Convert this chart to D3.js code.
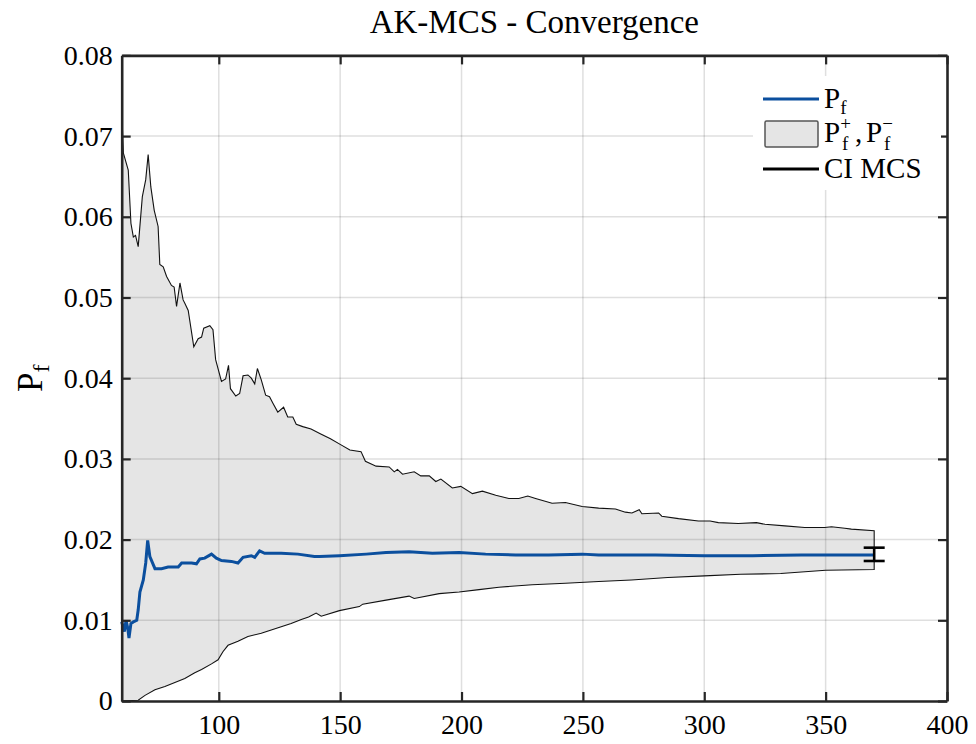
<!DOCTYPE html>
<html>
<head>
<meta charset="utf-8">
<script src="https://cdn.jsdelivr.net/npm/d3@7"></script>
<style>
  body { margin: 0; background: #fff; }
  svg text { font-family: "Liberation Serif", "Times New Roman", "DejaVu Serif", serif !important; fill: #000; }
</style>
</head>
<body>
<div id="chart"></div>
<script>
// upper bound Pf+
const upperX = [60, 60.7, 62.7, 63.8, 64.8, 65.7, 66.8, 68.5, 69.9, 70.9, 72, 73.4, 75, 75.7, 77.1, 78.5, 80.5, 81.6, 82.6, 84, 85.3, 86, 87.4, 89.7, 91.5, 92.9, 93.8, 96.3, 97.6, 98.7, 101.1, 102.8, 104, 104.8, 107, 108.6, 110, 112, 113.4, 114.8, 115.9, 117.5, 119.3, 120.9, 122.3, 124.3, 126.7, 128.4, 130.5, 131.9, 134.6, 138, 142, 146, 150, 154, 158.6, 160.4, 164.8, 170.2, 172.3, 173.6, 175.7, 180.5, 183.2, 186.7, 189.4, 191.5, 196.2, 199.7, 204.5, 208.6, 214.1, 219.5, 223.6, 227.3, 230.5, 237.3, 242.8, 249.7, 256.5, 263.4, 267.5, 270.2, 273.2, 274.3, 281.2, 282.5, 289.4, 297.6, 302.4, 305.8, 314, 321.5, 325, 333.2, 341.4, 349.6, 352.4, 357.9, 360.6, 370];
const upperY = [0.0732, 0.0679, 0.0658, 0.0592, 0.0575, 0.0577, 0.0563, 0.0625, 0.0646, 0.0677, 0.0637, 0.0608, 0.0588, 0.0541, 0.0538, 0.0526, 0.0515, 0.0513, 0.0489, 0.0518, 0.0497, 0.0493, 0.0484, 0.0439, 0.0449, 0.0451, 0.0462, 0.0465, 0.046, 0.0423, 0.0396, 0.0399, 0.0416, 0.0387, 0.0378, 0.0381, 0.0403, 0.0404, 0.04, 0.0393, 0.0412, 0.0398, 0.0379, 0.0377, 0.0369, 0.0358, 0.0364, 0.0352, 0.0352, 0.0343, 0.034, 0.0337, 0.0331, 0.0325, 0.0318, 0.0311, 0.0309, 0.0297, 0.0291, 0.029, 0.0284, 0.0287, 0.0281, 0.0284, 0.0279, 0.0279, 0.0272, 0.0275, 0.0264, 0.0266, 0.0257, 0.026, 0.0255, 0.0251, 0.0251, 0.0254, 0.0251, 0.0245, 0.0246, 0.0241, 0.0239, 0.0238, 0.0234, 0.0233, 0.0237, 0.0232, 0.0233, 0.0229, 0.0226, 0.0223, 0.0223, 0.0221, 0.022, 0.0221, 0.0219, 0.0217, 0.0215, 0.0215, 0.0216, 0.0214, 0.0213, 0.0211];

// lower bound Pf-
const lowerX = [60, 66.8, 69.6, 73.7, 77.8, 81.9, 86, 90.1, 92.9, 97, 99.7, 101.7, 103.8, 107.9, 112, 117.5, 121.6, 125.7, 129.8, 134, 137, 140.1, 142.2, 149.7, 157.9, 159.3, 168.9, 178.4, 180.5, 190.8, 199, 207.2, 215.4, 229.1, 242.8, 256.5, 270, 285, 300, 315, 331.5, 350, 370];
const lowerY = [0, 0.0001, 0.0007, 0.0014, 0.0018, 0.0023, 0.0028, 0.0035, 0.0039, 0.0046, 0.0051, 0.0061, 0.0069, 0.0074, 0.008, 0.0084, 0.0088, 0.0092, 0.0096, 0.0101, 0.0104, 0.0109, 0.0105, 0.0112, 0.0117, 0.012, 0.0125, 0.013, 0.0127, 0.0133, 0.0135, 0.0138, 0.0141, 0.0144, 0.0146, 0.0148, 0.015, 0.0153, 0.0155, 0.0157, 0.0158, 0.0162, 0.0163];

// Pf estimate
const pfX = [60, 61.1, 61.8, 62.5, 63, 63.8, 64.8, 66.2, 66.8, 67.5, 68.9, 69.9, 70.7, 71.6, 73.7, 76.4, 79.1, 81.9, 83.3, 84.7, 88.8, 90.8, 92.2, 94.2, 97, 99, 101.1, 105.2, 107.9, 110, 113.4, 114.8, 116.8, 118.9, 125.7, 132.6, 139.4, 141.5, 149.7, 160.7, 168.9, 178.4, 188, 199, 209.9, 222.3, 235.9, 249.7, 256.5, 280, 300, 320, 340, 370];
const pfY = [0.0098, 0.0086, 0.01, 0.009, 0.0078, 0.0096, 0.0098, 0.01, 0.0113, 0.0135, 0.015, 0.0171, 0.0199, 0.0179, 0.0164, 0.0164, 0.0166, 0.0166, 0.0166, 0.0171, 0.0171, 0.017, 0.0176, 0.0177, 0.0182, 0.0177, 0.0174, 0.0173, 0.0171, 0.0178, 0.018, 0.0178, 0.0186, 0.0183, 0.0183, 0.0182, 0.0179, 0.0179, 0.018, 0.0182, 0.0184, 0.0185, 0.0183, 0.0184, 0.0182, 0.0181, 0.0181, 0.0182, 0.0181, 0.0181, 0.018, 0.018, 0.0181, 0.0181];

// MCS confidence interval
const ciX = [370];
const ciLow = [0.01735];
const ciHigh = [0.0190];

const xTicks = [100, 150, 200, 250, 300, 350, 400];
const yTicks = [0, 0.01, 0.02, 0.03, 0.04, 0.05, 0.06, 0.07, 0.08];

const W = 976, H = 744;
const margin = {top: 55.4, right: 29, bottom: 43, left: 121.7};
const width = W - margin.left - margin.right;
const height = H - margin.top - margin.bottom;

const svg = d3.select("#chart").append("svg")
  .attr("width", W).attr("height", H)
  .style("background", "#fff");
const g = svg.append("g").attr("transform", `translate(${margin.left},${margin.top})`);

const x = d3.scaleLinear().domain([60, 400]).range([0, width]);
const y = d3.scaleLinear().domain([0, 0.08]).range([height, 0]);

// band patch: upper forward, lower backwards
const band = upperX.map((v, i) => [v, upperY[i]])
  .concat(lowerX.map((v, i) => [v, lowerY[i]]).reverse());
const line = d3.line().x(d => x(d[0])).y(d => y(d[1]));

g.append("path")
  .attr("d", line(band) + "Z")
  .attr("fill", "#e5e5e5")
  .attr("stroke", "none");

// grid
g.append("g").selectAll("line").data(xTicks.slice(0, -1)).join("line")
  .attr("x1", d => x(d)).attr("x2", d => x(d))
  .attr("y1", 0).attr("y2", height)
  .attr("stroke", "#262626").attr("stroke-opacity", 0.15).attr("stroke-width", 1.5);
g.append("g").selectAll("line").data(yTicks.slice(1, -1)).join("line")
  .attr("y1", d => y(d)).attr("y2", d => y(d))
  .attr("x1", 0).attr("x2", width)
  .attr("stroke", "#262626").attr("stroke-opacity", 0.15).attr("stroke-width", 1.5);

// band outline
g.append("path")
  .attr("d", line(band) + "Z")
  .attr("fill", "none")
  .attr("stroke", "#111").attr("stroke-width", 1.1);

// Pf line
g.append("path")
  .datum(pfX.map((v, i) => [v, pfY[i]]))
  .attr("d", line)
  .attr("fill", "none")
  .attr("stroke", "#0b4f9e").attr("stroke-width", 3);

// CI error bar
const ci = g.append("g");
ciX.forEach((v, i) => {
  ci.append("line").attr("x1", x(v)).attr("x2", x(v))
    .attr("y1", y(ciLow[i])).attr("y2", y(ciHigh[i]));
  [ciLow[i], ciHigh[i]].forEach(c => {
    ci.append("line").attr("x1", x(v) - 10.5).attr("x2", x(v) + 10.5)
      .attr("y1", y(c)).attr("y2", y(c));
  });
});
ci.selectAll("line").attr("stroke", "#000").attr("stroke-width", 2.6);

// axes (ticks inside, box on)
const tickLen = 9;
const axB = g.append("g").attr("transform", `translate(0,${height})`)
  .call(d3.axisBottom(x).tickValues(xTicks).tickSizeInner(-tickLen).tickSizeOuter(0).tickPadding(13));
const axT = g.append("g")
  .call(d3.axisTop(x).tickValues(xTicks).tickSizeInner(-tickLen).tickSizeOuter(0).tickFormat(""));
const axL = g.append("g")
  .call(d3.axisLeft(y).tickValues(yTicks).tickSizeInner(-tickLen).tickSizeOuter(0).tickPadding(9)
    .tickFormat(d => d === 0 ? "0" : d3.format(".2f")(d)));
const axR = g.append("g").attr("transform", `translate(${width},0)`)
  .call(d3.axisRight(y).tickValues(yTicks).tickSizeInner(-tickLen).tickSizeOuter(0).tickFormat(""));

[axB, axT, axL, axR].forEach(a => {
  a.attr("font-family", null);
  a.select(".domain").attr("stroke", "#262626").attr("stroke-width", 2.6);
  a.selectAll(".tick line").attr("stroke", "#262626").attr("stroke-width", 2.2);
  a.selectAll("text").style("font-size", "28px").attr("fill", "#000");
});
axB.selectAll("text").attr("dy", "0.71em");

// title
svg.append("text")
  .attr("x", margin.left + width / 2).attr("y", 33)
  .attr("text-anchor", "middle")
  .style("font-size", "33px")
  .text("AK-MCS - Convergence");

// y label
const yl = svg.append("text")
  .attr("transform", `translate(42,${margin.top + height / 2}) rotate(-90)`)
  .attr("text-anchor", "middle")
  .style("font-size", "35px");
yl.append("tspan").text("P");
yl.append("tspan").attr("dy", "0.3em").style("font-size", "24px").text("f");

// legend
const lg = svg.append("g");
lg.append("rect").attr("x", 753).attr("y", 76).attr("width", 188).attr("height", 114)
  .attr("fill", "#fff");
lg.append("line").attr("x1", 763).attr("x2", 819).attr("y1", 99).attr("y2", 99)
  .attr("stroke", "#0b4f9e").attr("stroke-width", 3);
lg.append("rect").attr("x", 765).attr("y", 121).attr("width", 53).attr("height", 26)
  .attr("fill", "#e5e5e5").attr("stroke", "#555").attr("stroke-width", 1.5).attr("rx", 1.5);
lg.append("line").attr("x1", 763).attr("x2", 819).attr("y1", 169).attr("y2", 169)
  .attr("stroke", "#000").attr("stroke-width", 3);

const t1 = lg.append("text").attr("x", 824).attr("y", 108).style("font-size", "29px");
t1.append("tspan").text("P");
t1.append("tspan").attr("dy", 6).style("font-size", "19px").text("f");

const t2 = lg.append("text").attr("x", 824).attr("y", 142).style("font-size", "29px");
t2.append("tspan").text("P");
t2.append("tspan").attr("dy", -12).style("font-size", "19px").text("+");
t2.append("tspan").attr("x", 842).attr("dy", 20).style("font-size", "19px").text("f");
t2.append("tspan").attr("x", 855).attr("dy", -8).text(",");
t2.append("tspan").attr("x", 866).text("P");
t2.append("tspan").attr("dy", -12).style("font-size", "19px").text("\u2212");
t2.append("tspan").attr("x", 884).attr("dy", 20).style("font-size", "19px").text("f");

lg.append("text").attr("x", 824).attr("y", 178).style("font-size", "29px").text("CI MCS");
</script>
</body>
</html>
